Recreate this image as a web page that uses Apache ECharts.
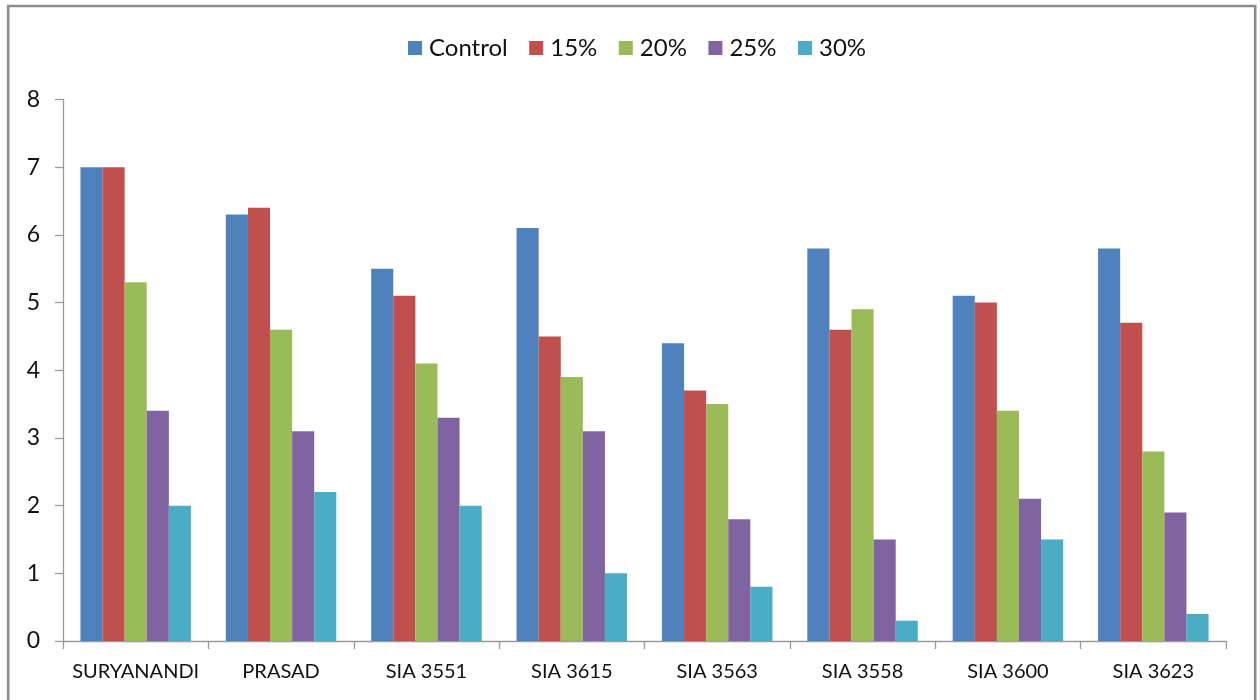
<!DOCTYPE html>
<html>
<head>
<meta charset="utf-8">
<script src="https://cdn.jsdelivr.net/npm/echarts@6/dist/echarts.min.js"></script>
<style>
  html, body { margin: 0; padding: 0; background: #fff; }
  #chart { width: 1260px; height: 700px; }
</style>
</head>
<body>
<div id="chart"></div>
<script>
// Varieties on the x axis
const categories = ['SURYANANDI', 'PRASAD', 'SIA 3551', 'SIA 3615', 'SIA 3563', 'SIA 3558', 'SIA 3600', 'SIA 3623'];

// One array per treatment level
const control = [7.0, 6.3, 5.5, 6.1, 4.4, 5.8, 5.1, 5.8];
const pct15   = [7.0, 6.4, 5.1, 4.5, 3.7, 4.6, 5.0, 4.7];
const pct20   = [5.3, 4.6, 4.1, 3.9, 3.5, 4.9, 3.4, 2.8];
const pct25   = [3.4, 3.1, 3.3, 3.1, 1.8, 1.5, 2.1, 1.9];
const pct30   = [2.0, 2.2, 2.0, 1.0, 0.8, 0.3, 1.5, 0.4];

const seriesNames = ['Control', '15%', '20%', '25%', '30%'];
const seriesData = [control, pct15, pct20, pct25, pct30];
const colors = ['#4F81BD', '#C0504D', '#9BBB59', '#8064A2', '#4BACC6'];

const FONT = 'Lato, "Open Sans", sans-serif';

const chart = echarts.init(document.getElementById('chart'), null, { renderer: 'canvas' });

chart.setOption({
  animation: false,
  backgroundColor: '#ffffff',
  color: colors,
  textStyle: { fontFamily: FONT },
  graphic: [{
    type: 'rect',
    silent: true,
    shape: { x: 8.2, y: 6, width: 1247, height: 720 },
    style: { fill: 'none', stroke: '#8c8c8c', lineWidth: 2.6 }
  }],
  legend: {
    data: seriesNames,
    left: 403,
    top: 31,
    icon: 'rect',
    itemWidth: 14,
    itemHeight: 14,
    itemGap: 21.5,
    textStyle: { fontFamily: FONT, fontSize: 24, color: '#111', padding: [0, 0, 0, 2] }
  },
  grid: {
    left: 63,
    right: 34,
    top: 99.5,
    bottom: 59,
    containLabel: false
  },
  xAxis: {
    type: 'category',
    data: categories,
    axisLine: { lineStyle: { color: '#9a9a9a', width: 1.3 } },
    axisTick: { show: true, length: 8, alignWithLabel: false, lineStyle: { color: '#9a9a9a', width: 1.3 } },
    axisLabel: { fontFamily: FONT, fontSize: 20, color: '#111', margin: 21, interval: 0 }
  },
  yAxis: {
    type: 'value',
    min: 0,
    max: 8,
    interval: 1,
    splitLine: { show: false },
    axisLine: { show: true, lineStyle: { color: '#9a9a9a', width: 1.3 } },
    axisTick: { show: true, length: 8, lineStyle: { color: '#9a9a9a', width: 1.3 } },
    axisLabel: { fontFamily: FONT, fontSize: 23, color: '#111', margin: 23 }
  },
  series: seriesNames.map((name, i) => ({
    name: name,
    type: 'bar',
    data: seriesData[i],
    barGap: '0%',
    barCategoryGap: '24%',
    itemStyle: { color: colors[i] }
  }))
});
</script>
</body>
</html>
